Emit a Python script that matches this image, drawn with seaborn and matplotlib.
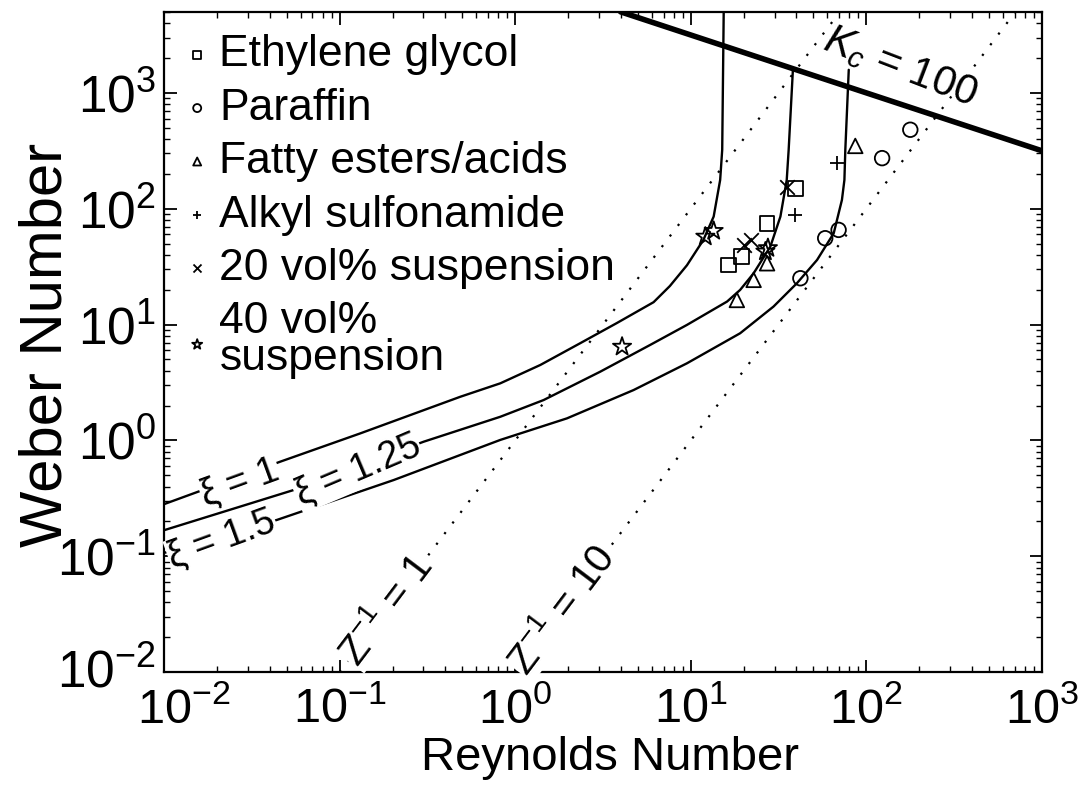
import matplotlib
matplotlib.use("Agg")
import matplotlib.pyplot as plt
import matplotlib.transforms as mtransforms
import seaborn as sns

# ---------------- data ----------------
# xi = 1 curve
xi1_re = [0.01, 0.0458, 0.131, 0.486, 0.822, 1.39, 2.34, 3.79, 6.14, 7.6, 9.51, 11.8, 13.5, 14.7, 15.1, 15.4]
xi1_we = [0.282, 0.655, 1.15, 2.38, 3.11, 4.48, 6.89, 10.3, 15.6, 21.5, 32.5, 53.8, 85.5, 177, 322, 5000]
# xi = 1.25 curve
xi125_re = [0.01, 0.0546, 0.301, 0.822, 1.45, 3.05, 5.87, 9.51, 16.1, 19.1, 22.8, 28.4, 32.4, 35.2, 36.1, 38.2]
xi125_we = [0.168, 0.373, 0.975, 1.60, 2.23, 3.92, 6.67, 9.93, 15.8, 19.9, 27.7, 47.1, 85.5, 177, 322, 1620]
# xi = 1.5 curve
xi15_re = [0.01, 0.0439, 0.203, 0.822, 1.97, 4.72, 9.51, 19.1, 29.6, 40.3, 52.4, 65.2, 72.6, 75.0, 75.9, 79.4]
xi15_we = [0.107, 0.206, 0.455, 1.01, 1.55, 2.72, 4.63, 8.41, 14.3, 22.8, 36.1, 61.4, 119, 177, 322, 1580]
# K_c = 100 line
kc_re = [3.98, 1000]
kc_we = [5000, 316]
# Z^-1 = 1 and Z^-1 = 10 lines
z1_re = [0.1, 70.7]
z1_we = [0.01, 5000]
z10_re = [1.0, 707]
z10_we = [0.01, 5000]

# experimental points
eg_re = [16.4, 19.5, 27.2, 39.4]
eg_we = [32.7, 38.5, 74.6, 150]
par_re = [42.1, 58.3, 69.5, 123, 178]
par_we = [25.1, 55.6, 65.6, 273, 480]
fat_re = [18.3, 22.8, 27.2, 86.5]
fat_we = [16.3, 24.3, 33.8, 348]
alk_re = [39.4, 67.9]
alk_we = [88.3, 247]
s20_re = [20.0, 21.9, 35.2]
s20_we = [49.0, 53.7, 155]
s40_re = [4.06, 12.1, 13.5, 26.6, 27.5]
s40_we = [6.44, 57.4, 64.3, 42.7, 45.7]

series_names = ["Ethylene glycol", "Paraffin", "Fatty esters/acids",
                "Alkyl sulfonamide", "20 vol% suspension", "40 vol%\nsuspension"]

x_ticks = [1e-2, 1e-1, 1e0, 1e1, 1e2, 1e3]
y_ticks = [1e-2, 1e-1, 1e0, 1e1, 1e2, 1e3]

# ---------------- styling ----------------
sns.set_theme(style="ticks")
plt.rcParams['font.family'] = ['Liberation Sans', 'DejaVu Sans']
plt.rcParams['mathtext.fontset'] = 'custom'
plt.rcParams['mathtext.rm'] = 'Liberation Sans'
plt.rcParams['mathtext.it'] = 'Liberation Sans:italic'
plt.rcParams['mathtext.bf'] = 'Liberation Sans:bold'
for key in ['text.color', 'axes.labelcolor', 'xtick.color', 'ytick.color', 'axes.edgecolor']:
    plt.rcParams[key] = 'black'

fig = plt.figure(figsize=(10.87, 7.88), dpi=100)
ax = fig.add_axes([0.151, 0.147, 0.8075, 0.838])
ax.set_xscale('log')
ax.set_yscale('log')

# curves
for xr, yr in [(xi1_re, xi1_we), (xi125_re, xi125_we), (xi15_re, xi15_we)]:
    sns.lineplot(x=xr, y=yr, ax=ax, color='black', lw=1.7, sort=False, estimator=None)
sns.lineplot(x=kc_re, y=kc_we, ax=ax, color='black', lw=4.0, sort=False, estimator=None)
for xr, yr in [(z1_re, z1_we), (z10_re, z10_we)]:
    sns.lineplot(x=xr, y=yr, ax=ax, color='black', lw=1.6, sort=False, estimator=None,
                 linestyle=(0, (1, 5)))

# points
groups = [(eg_re, eg_we, 's'), (par_re, par_we, 'o'), (fat_re, fat_we, '^'),
          (alk_re, alk_we, '+'), (s20_re, s20_we, 'x'), (s40_re, s40_we, '*')]
handles = []
for (xr, yr, m), name in zip(groups, series_names):
    filled = m not in ('+', 'x')
    kw = dict(facecolors='none', edgecolor='black') if filled else dict(color='black')
    sz = 110 if m != '*' else 190
    sns.scatterplot(x=xr, y=yr, ax=ax, marker=m, s=sz, linewidth=1.3,
                    legend=False, label=name, zorder=5, **kw)
    handles.append(ax.collections[-1])

ax.set_xlim(1e-2, 1e3)
ax.set_ylim(1e-2, 5000)
ax.set_xticks(x_ticks)
ax.set_yticks(y_ticks)

for side in ['top', 'right', 'left', 'bottom']:
    ax.spines[side].set_visible(True)
    ax.spines[side].set_linewidth(1.6)
    ax.spines[side].set_color('black')
ax.tick_params(which='both', direction='in', top=True, right=True, color='black')
ax.tick_params(which='major', length=9, width=1.3, pad=6)
ax.tick_params(which='minor', length=4.5, width=1.0)
ax.tick_params(axis='y', which='major', labelsize=37)
ax.tick_params(axis='x', which='major', labelsize=35, pad=11)

# nudge the two corner labels apart (the first x label sits a bit right in the original)
xt0 = ax.xaxis.get_major_ticks()[0].label1
xt0.set_transform(xt0.get_transform() + mtransforms.ScaledTranslation(14 / 72, 0, fig.dpi_scale_trans))
yt0 = ax.yaxis.get_major_ticks()[0].label1
yt0.set_transform(yt0.get_transform() + mtransforms.ScaledTranslation(0, 3 / 72, fig.dpi_scale_trans))

ax.set_xlabel("Reynolds Number", fontsize=34)
ax.set_ylabel("Weber Number", fontsize=43)
ax.xaxis.set_label_coords(0.508, -0.097)
ax.yaxis.set_label_coords(-0.103, 0.495)

# annotations
bb = dict(facecolor='white', edgecolor='none', pad=0.5)
ax.text(156, 1650, r"$K_c$ = 100", fontsize=30, rotation=-21, ha='center', va='center',
        rotation_mode='anchor')
ax.text(0.185, 0.0343, r"Z$^{-1}$ = 1", fontsize=29, rotation=53, ha='center', va='center',
        rotation_mode='anchor', bbox=bb)
ax.text(1.85, 0.0343, r"Z$^{-1}$ = 10", fontsize=29, rotation=53, ha='center', va='center',
        rotation_mode='anchor', bbox=bb)
ax.text(0.0271, 0.43, "ξ = 1", fontsize=27, rotation=20, ha='center', va='center',
        rotation_mode='anchor', bbox=bb)
ax.text(0.127, 0.55, "ξ = 1.25", fontsize=27, rotation=23, ha='center', va='center',
        rotation_mode='anchor', bbox=bb)
ax.text(0.0214, 0.138, "ξ = 1.5", fontsize=27, rotation=20, ha='center', va='center',
        rotation_mode='anchor', bbox=bb)

leg = ax.legend(handles, series_names, loc='upper left', bbox_to_anchor=(0.025, 0.966),
                frameon=False, fontsize=32, borderaxespad=0, borderpad=0,
                handlelength=0.5, handletextpad=0.25, labelspacing=0.28, markerscale=0.55)
leg.get_texts()[-1].set_linespacing(0.85)

fig.savefig("out.png", dpi=100)
